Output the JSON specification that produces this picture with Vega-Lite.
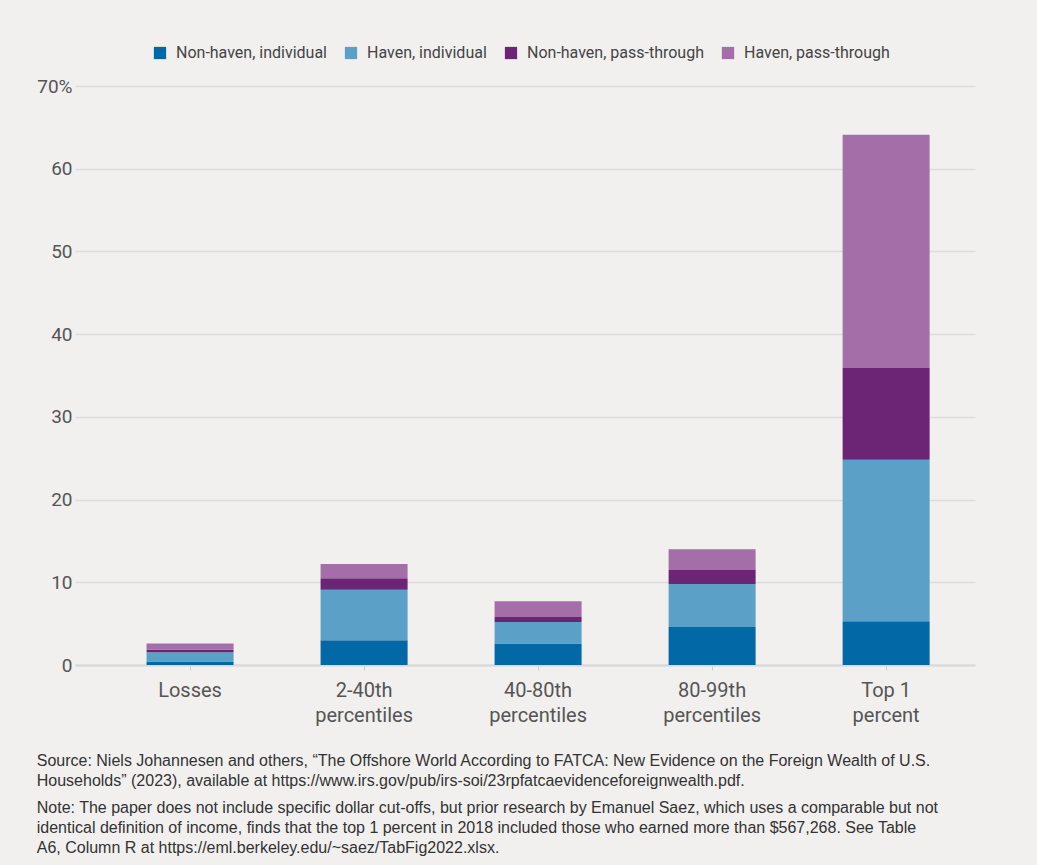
{
  "$schema": "https://vega.github.io/schema/vega-lite/v6.json",
  "autosize": "none",
  "width": 900,
  "height": 579,
  "padding": {"left": 75, "top": 86, "right": 62, "bottom": 200},
  "background": "#f1f0ef",
  "title": {
    "text": ["Source: Niels Johannesen and others, “The Offshore World According to FATCA: New Evidence on the Foreign Wealth of U.S.", "Households” (2023), available at https://www.irs.gov/pub/irs-soi/23rpfatcaevidenceforeignwealth.pdf."],
    "subtitle": ["Note: The paper does not include specific dollar cut-offs, but prior research by Emanuel Saez, which uses a comparable but not", "identical definition of income, finds that the top 1 percent in 2018 included those who earned more than $567,268. See Table", "A6, Column R at https://eml.berkeley.edu/~saez/TabFig2022.xlsx."],
    "orient": "bottom",
    "anchor": "start",
    "frame": "bounds",
    "offset": 28,
    "font": "Liberation Sans",
    "fontSize": 16,
    "fontWeight": "normal",
    "color": "#333333",
    "lineHeight": 20,
    "subtitleFont": "Liberation Sans",
    "subtitleFontSize": 16,
    "subtitleColor": "#333333",
    "subtitleLineHeight": 20,
    "subtitlePadding": 11
  },
  "data": {
    "values": [
      {"group": "Losses", "type": "Non-haven, individual", "k": 1, "value": 0.42},
      {"group": "Losses", "type": "Haven, individual", "k": 2, "value": 1.13},
      {"group": "Losses", "type": "Non-haven, pass-through", "k": 3, "value": 0.3},
      {"group": "Losses", "type": "Haven, pass-through", "k": 4, "value": 0.75},
      {"group": "2-40th percentiles", "type": "Non-haven, individual", "k": 1, "value": 3.0},
      {"group": "2-40th percentiles", "type": "Haven, individual", "k": 2, "value": 6.1},
      {"group": "2-40th percentiles", "type": "Non-haven, pass-through", "k": 3, "value": 1.4},
      {"group": "2-40th percentiles", "type": "Haven, pass-through", "k": 4, "value": 1.7},
      {"group": "40-80th percentiles", "type": "Non-haven, individual", "k": 1, "value": 2.6},
      {"group": "40-80th percentiles", "type": "Haven, individual", "k": 2, "value": 2.6},
      {"group": "40-80th percentiles", "type": "Non-haven, pass-through", "k": 3, "value": 0.6},
      {"group": "40-80th percentiles", "type": "Haven, pass-through", "k": 4, "value": 1.9},
      {"group": "80-99th percentiles", "type": "Non-haven, individual", "k": 1, "value": 4.6},
      {"group": "80-99th percentiles", "type": "Haven, individual", "k": 2, "value": 5.2},
      {"group": "80-99th percentiles", "type": "Non-haven, pass-through", "k": 3, "value": 1.7},
      {"group": "80-99th percentiles", "type": "Haven, pass-through", "k": 4, "value": 2.5},
      {"group": "Top 1 percent", "type": "Non-haven, individual", "k": 1, "value": 5.3},
      {"group": "Top 1 percent", "type": "Haven, individual", "k": 2, "value": 19.5},
      {"group": "Top 1 percent", "type": "Non-haven, pass-through", "k": 3, "value": 11.1},
      {"group": "Top 1 percent", "type": "Haven, pass-through", "k": 4, "value": 28.2}
    ]
  },
  "mark": {"type": "bar"},
  "encoding": {
    "x": {
      "field": "group",
      "type": "nominal",
      "sort": ["Losses", "2-40th percentiles", "40-80th percentiles", "80-99th percentiles", "Top 1 percent"],
      "scale": {"paddingInner": 0.5, "paddingOuter": 0.336, "align": 0.612},
      "axis": {
        "title": null,
        "labelAngle": 0,
        "labelExpr": "datum.value == 'Top 1 percent' ? ['Top 1', 'percent'] : split(datum.value, ' ')",
        "labelFont": "Roboto",
        "labelFontSize": 20,
        "labelColor": "#555555",
        "labelLineHeight": 25,
        "labelPadding": 10,
        "domain": true,
        "domainColor": "#d8d8d8",
        "domainWidth": 2,
        "ticks": true,
        "tickColor": "#cccccc",
        "tickSize": 5,
        "grid": false
      }
    },
    "y": {
      "field": "value",
      "type": "quantitative",
      "stack": "zero",
      "scale": {"domain": [0, 70], "nice": false},
      "axis": {
        "title": null,
        "values": [0, 10, 20, 30, 40, 50, 60, 70],
        "labelExpr": "datum.value == 70 ? '70%' : datum.label",
        "labelFont": "Roboto",
        "labelFontSize": 19,
        "labelColor": "#555555",
        "labelPadding": 3,
        "domain": false,
        "ticks": false,
        "grid": true,
        "gridColor": "#dddcdb",
        "gridWidth": 1.5
      }
    },
    "color": {
      "field": "type",
      "type": "nominal",
      "scale": {
        "domain": ["Non-haven, individual", "Haven, individual", "Non-haven, pass-through", "Haven, pass-through"],
        "range": ["#0368a6", "#5ba0c6", "#6b2574", "#a46ea8"]
      },
      "legend": {
        "title": null,
        "orient": "none",
        "direction": "horizontal",
        "legendX": 77,
        "legendY": -41,
        "symbolType": "square",
        "symbolSize": 150,
        "symbolStrokeWidth": 0,
        "symbolOpacity": 1,
        "labelFont": "Roboto",
        "labelFontSize": 16,
        "labelLimit": 0,
        "labelColor": "#444444",
        "columnPadding": 16,
        "labelOffset": 8
      }
    },
    "order": {"field": "k", "type": "quantitative", "sort": "ascending"}
  },
  "config": {"view": {"stroke": null}}
}
